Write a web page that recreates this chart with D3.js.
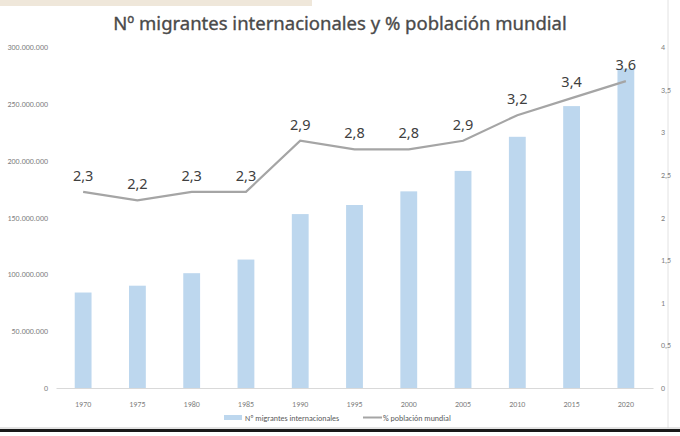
<!DOCTYPE html>
<html>
<head>
<meta charset="utf-8">
<style> body { margin: 0; background: #fff; } </style>
<script src="https://cdn.jsdelivr.net/npm/d3@7"></script>
</head>
<body>
<svg id="chart" width="680" height="436"></svg>
<script>
    const years = ['1970', '1975', '1980', '1985', '1990', '1995', '2000', '2005', '2010', '2015', '2020'];
    const migrants = [84000000, 90000000, 101000000, 113000000, 153000000, 161000000, 173000000, 191000000, 221000000, 248000000, 281000000];
    const pctWorld = [2.3, 2.2, 2.3, 2.3, 2.9, 2.8, 2.8, 2.9, 3.2, 3.4, 3.6];
    const leftTicks = [0, 50000000, 100000000, 150000000, 200000000, 250000000, 300000000];
    const rightTicks = [0, 0.5, 1, 1.5, 2, 2.5, 3, 3.5, 4];

    const svg = d3.select('#chart');
    const font = 'Calibri, Carlito, "Open Sans", sans-serif';

    // frame bits from the screenshot
    svg.append('rect').attr('x', 0).attr('y', 0).attr('width', 312).attr('height', 6).attr('fill', '#efe7da');
    svg.append('line').attr('x1', 668).attr('x2', 668).attr('y1', 0).attr('y2', 428).attr('stroke', '#e2e2e2');
    svg.append('line').attr('x1', 0).attr('x2', 680).attr('y1', 428).attr('y2', 428).attr('stroke', '#c8c8c8');
    svg.append('rect').attr('x', 0).attr('y', 429).attr('width', 680).attr('height', 3).attr('fill', '#1a1a1a');

    const plotL = 56, plotR = 653, plotT = 47, plotB = 388;

    const x = d3.scaleBand().domain(years).range([plotL, plotR]).paddingInner(0.69).paddingOuter(0.345);
    const y = d3.scaleLinear().domain([0, 300000000]).range([plotB, plotT]);
    const y2 = d3.scaleLinear().domain([0, 4]).range([plotB, plotT]);

    const fmt = v => d3.format(',')(v).replace(/,/g, '.');
    const fmt2 = v => String(v).replace('.', ',');

    // title
    svg.append('text')
        .attr('x', 340).attr('y', 30)
        .attr('text-anchor', 'middle')
        .attr('font-family', '"Noto Sans", sans-serif')
        .attr('font-size', 18.5)
        .attr('fill', '#4a4a4a')
        .attr('stroke', '#4a4a4a')
        .attr('stroke-width', 0.35)
        .text('Nº migrantes internacionales y % población mundial');

    // left axis
    const axL = svg.append('g')
        .attr('transform', `translate(${plotL - 8},0)`)
        .call(d3.axisLeft(y).tickValues(leftTicks).tickSize(0).tickPadding(0).tickFormat(fmt));
    axL.select('.domain').remove();

    // right axis
    const axR = svg.append('g')
        .attr('transform', `translate(${plotR + 8},0)`)
        .call(d3.axisRight(y2).tickValues(rightTicks).tickSize(0).tickPadding(0).tickFormat(fmt2));
    axR.select('.domain').remove();

    // x axis
    const axX = svg.append('g')
        .attr('transform', `translate(0,${plotB})`)
        .call(d3.axisBottom(x).tickSize(0).tickPadding(13));
    axX.select('.domain').attr('stroke', '#d9d9d9');

    svg.selectAll('.tick text')
        .attr('font-family', font)
        .attr('font-size', 8)
        .attr('fill', '#7f7f7f');

    // bars
    svg.append('g')
        .selectAll('rect')
        .data(migrants)
        .join('rect')
            .attr('x', (d, i) => x(years[i]))
            .attr('y', d => y(d))
            .attr('width', x.bandwidth())
            .attr('height', d => plotB - y(d))
            .attr('fill', '#bdd7ee');

    // line
    const line = d3.line()
        .x((d, i) => x(years[i]) + x.bandwidth() / 2)
        .y(d => y2(d));

    svg.append('path')
        .datum(pctWorld)
        .attr('d', line)
        .attr('fill', 'none')
        .attr('stroke', '#a5a5a5')
        .attr('stroke-width', 2.2);

    svg.append('g')
        .selectAll('text')
        .data(pctWorld)
        .join('text')
            .attr('x', (d, i) => x(years[i]) + x.bandwidth() / 2)
            .attr('y', d => y2(d) - 11)
            .attr('text-anchor', 'middle')
            .attr('font-family', '"Noto Sans", sans-serif')
            .attr('font-size', 14.5)
            .attr('fill', '#404040')
            .text(fmt2);

    // legend
    const lg = svg.append('g').attr('font-family', font).attr('font-size', 8).attr('fill', '#595959');
    lg.append('rect').attr('x', 224).attr('y', 415).attr('width', 18).attr('height', 5).attr('fill', '#bdd7ee');
    lg.append('text').attr('x', 245).attr('y', 420.5).text('Nº migrantes internacionales');
    lg.append('line').attr('x1', 363).attr('x2', 382).attr('y1', 417.5).attr('y2', 417.5).attr('stroke', '#a5a5a5').attr('stroke-width', 2);
    lg.append('text').attr('x', 383).attr('y', 420.5).text('% población mundial');
</script>
</body>
</html>
